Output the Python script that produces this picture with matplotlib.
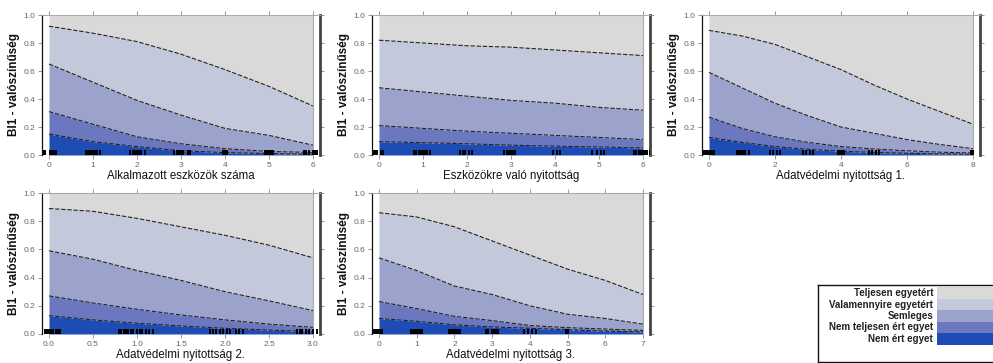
import matplotlib.pyplot as plt
from matplotlib.patches import Rectangle

plt.rcParams['font.family'] = ['Liberation Sans', 'DejaVu Sans']

categories = ["Nem ért egyet", "Nem teljesen ért egyet", "Semleges",
              "Valamennyire egyetért", "Teljesen egyetért"]
colors = ["#1d4cb4", "#6b78bf", "#9ba3cd", "#c3c8da", "#d8d9d8"]

# panel 1: Alkalmazott eszközök száma
x1 = [0, 1, 2, 3, 4, 5, 6]
p1_b1 = [0.15, 0.095, 0.06, 0.03, 0.017, 0.01, 0.005]
p1_b2 = [0.31, 0.22, 0.13, 0.08, 0.045, 0.025, 0.018]
p1_b3 = [0.65, 0.52, 0.39, 0.285, 0.19, 0.14, 0.07]
p1_b4 = [0.92, 0.87, 0.81, 0.72, 0.61, 0.49, 0.35]
rug1 = [-0.12, -0.08, 0.02, 0.05, 0.08, 0.12, 0.15, 0.85, 0.88, 0.92, 0.95, 0.98,
        1.02, 1.05, 1.1, 1.15, 1.85, 1.9, 1.95, 2.0, 2.05, 2.1, 2.18, 2.85, 2.9,
        2.95, 3.0, 3.05, 3.15, 3.2, 3.95, 4.0, 4.05, 4.9, 4.95, 5.0, 5.05, 5.1,
        5.8, 5.85, 5.9, 6.0, 6.05, 6.1]

# panel 2: Eszközökre való nyitottság
x2 = [0, 1, 2, 3, 4, 5, 6]
p2_b1 = [0.095, 0.088, 0.08, 0.07, 0.063, 0.057, 0.05]
p2_b2 = [0.21, 0.19, 0.17, 0.155, 0.14, 0.125, 0.11]
p2_b3 = [0.48, 0.45, 0.42, 0.39, 0.37, 0.34, 0.32]
p2_b4 = [0.82, 0.80, 0.78, 0.77, 0.75, 0.73, 0.71]
rug2 = [-0.12, -0.08, -0.04, 0.05, 0.1, 0.8, 0.85, 0.9, 0.95, 1.0, 1.03, 1.06,
        1.1, 1.15, 1.85, 1.9, 1.95, 2.05, 2.12, 2.85, 2.9, 2.95, 3.0, 3.05,
        3.1, 3.95, 4.05, 4.12, 4.85, 4.95, 5.05, 5.12, 5.8, 5.85, 5.9, 5.95,
        6.0, 6.05, 6.1, 6.15]

# panel 3: Adatvédelmi nyitottság 1.
x3 = [0, 1, 2, 3, 4, 5, 6, 7, 8]
p3_b1 = [0.125, 0.09, 0.06, 0.04, 0.027, 0.018, 0.012, 0.008, 0.005]
p3_b2 = [0.27, 0.19, 0.13, 0.09, 0.06, 0.043, 0.03, 0.02, 0.014]
p3_b3 = [0.59, 0.48, 0.37, 0.28, 0.20, 0.155, 0.11, 0.075, 0.045]
p3_b4 = [0.89, 0.85, 0.79, 0.70, 0.61, 0.50, 0.40, 0.31, 0.22]
rug3 = [-0.15, -0.1, -0.05, 0.0, 0.05, 0.1, 0.15, 0.85, 0.9, 0.95, 1.0, 1.05,
        1.1, 1.2, 1.85, 1.95, 2.05, 2.15, 2.85, 2.95, 3.05, 3.15, 3.9, 3.95,
        4.0, 4.05, 4.1, 4.85, 4.95, 5.05, 5.15, 7.95, 8.0]

# panel 4: Adatvédelmi nyitottság 2.
x4 = [0.0, 0.5, 1.0, 1.5, 2.0, 2.5, 3.0]
p4_b1 = [0.13, 0.10, 0.076, 0.057, 0.04, 0.028, 0.017]
p4_b2 = [0.27, 0.22, 0.175, 0.135, 0.10, 0.07, 0.047]
p4_b3 = [0.59, 0.53, 0.45, 0.38, 0.30, 0.235, 0.166]
p4_b4 = [0.89, 0.87, 0.82, 0.76, 0.70, 0.63, 0.54]
rug4 = [-0.05, -0.03, -0.01, 0.01, 0.03, 0.05, 0.08, 0.1, 0.12, 0.8, 0.82,
        0.85, 0.88, 0.9, 0.93, 0.96, 1.0, 1.03, 1.06, 1.1, 1.14, 1.18, 1.83,
        1.86, 1.9, 1.94, 1.98, 2.02, 2.06, 2.12, 2.16, 2.2, 2.82, 2.85, 2.88,
        2.92, 2.96, 3.0, 3.04]

# panel 5: Adatvédelmi nyitottság 3.
x5 = [0, 1, 2, 3, 4, 5, 6, 7]
p5_b1 = [0.11, 0.09, 0.065, 0.05, 0.04, 0.03, 0.02, 0.015]
p5_b2 = [0.23, 0.18, 0.125, 0.095, 0.06, 0.045, 0.035, 0.025]
p5_b3 = [0.54, 0.45, 0.34, 0.28, 0.20, 0.14, 0.11, 0.07]
p5_b4 = [0.86, 0.83, 0.76, 0.66, 0.56, 0.46, 0.38, 0.28]
rug5 = [-0.12, -0.08, -0.04, 0.0, 0.04, 0.08, 0.85, 0.9, 0.95, 1.0, 1.05, 1.1,
        1.15, 1.85, 1.9, 1.95, 2.0, 2.05, 2.1, 2.15, 2.85, 2.9, 3.0, 3.05,
        3.1, 3.15, 3.85, 3.95, 4.05, 4.15, 4.95, 5.0]

xlabels = ["Alkalmazott eszközök száma", "Eszközökre való nyitottság",
           "Adatvédelmi nyitottság 1.", "Adatvédelmi nyitottság 2.",
           "Adatvédelmi nyitottság 3."]
xticks = [[0, 1, 2, 3, 4, 5, 6], [0, 1, 2, 3, 4, 5, 6], [0, 2, 4, 6, 8],
          [0.0, 0.5, 1.0, 1.5, 2.0, 2.5, 3.0], [0, 1, 2, 3, 4, 5, 6, 7]]
xticklabels = [None, None, None,
               ["0.0", "0.5", "1.0", "1.5", "2.0", "2.5", "3.0"], None]

panels = [(x1, [p1_b1, p1_b2, p1_b3, p1_b4], rug1),
          (x2, [p2_b1, p2_b2, p2_b3, p2_b4], rug2),
          (x3, [p3_b1, p3_b2, p3_b3, p3_b4], rug3),
          (x4, [p4_b1, p4_b2, p4_b3, p4_b4], rug4),
          (x5, [p5_b1, p5_b2, p5_b3, p5_b4], rug5)]

W, H = 993, 363
fig = plt.figure(figsize=(W / 100, H / 100), dpi=100)

# axes boxes in pixels: (left, top, right, bottom)
boxes = [(42, 15, 320, 155), (372, 15, 650, 155), (702, 15, 980, 155),
         (42, 193, 320, 334), (372, 193, 650, 334)]

gray = "#888888"
for i, (x, bounds, rug) in enumerate(panels):
    l, t, r, b = boxes[i]
    ax = fig.add_axes([l / W, (H - b) / H, (r - l) / W, (b - t) / H])
    lows = [[0.0] * len(x)] + bounds
    highs = bounds + [[1.0] * len(x)]
    for k in range(5):
        ax.fill_between(x, lows[k], highs[k], color=colors[k], lw=0, zorder=1)
    for bnd in bounds:
        ax.plot(x, bnd, color="#222222", lw=0.8, ls=(0, (4, 1.5)), zorder=2)
    ax.axvline(x[-1], color="#aaaaaa", lw=0.8, zorder=2)
    ax.vlines(rug, 0, 0.035, color="black", lw=1.4, zorder=3)
    span = x[-1] - x[0]
    pad = span * 7 / 264
    ax.set_xlim(x[0] - pad, x[-1] + pad)
    ax.set_ylim(0, 1)
    ax.set_xticks(xticks[i])
    if xticklabels[i] is not None:
        ax.set_xticklabels(xticklabels[i])
    ax.set_yticks([0, 0.2, 0.4, 0.6, 0.8, 1.0])
    ax.set_yticklabels(["0.0", "0.2", "0.4", "0.6", "0.8", "1.0"])
    ax.tick_params(axis="both", labelsize=6, labelcolor="#666666",
                   color=gray, length=3, width=0.6, pad=2)
    ax.tick_params(axis="y", right=True)
    ax.tick_params(axis="x", top=True)
    ax.spines["left"].set_color("#111111")
    ax.spines["left"].set_linewidth(0.9)
    ax.spines["right"].set_color("#444444")
    ax.spines["right"].set_linewidth(2)
    ax.spines["top"].set_color("#aaaaaa")
    ax.spines["top"].set_linewidth(0.8)
    ax.spines["bottom"].set_visible(False)
    ax.set_xlabel(xlabels[i], fontsize=8.3, color="#111111", labelpad=1)
    ax.set_ylabel("BI1 - valószínűség", fontsize=8.5, fontweight="bold",
                  color="#111111", labelpad=2)

# legend drawn as its own box at the lower right
lax = fig.add_axes([818 / W, (H - 362) / H, 190 / W, 77 / H])
lax.set_xlim(0, 190)
lax.set_ylim(77, 0)
lax.set_xticks([])
lax.set_yticks([])
for s in lax.spines.values():
    s.set_linewidth(1.0)
    s.set_color("#111111")
order = list(range(4, -1, -1))
for j, k in enumerate(order):
    y0 = 2 + j * 11.5
    lax.add_patch(Rectangle((119, y0), 70, 11.5, color=colors[k], lw=0))
    lax.text(115, y0 + 6, categories[k], ha="right", va="center",
             fontsize=7, fontweight="bold", color="#222222")

fig.savefig("out.png", dpi=100)
